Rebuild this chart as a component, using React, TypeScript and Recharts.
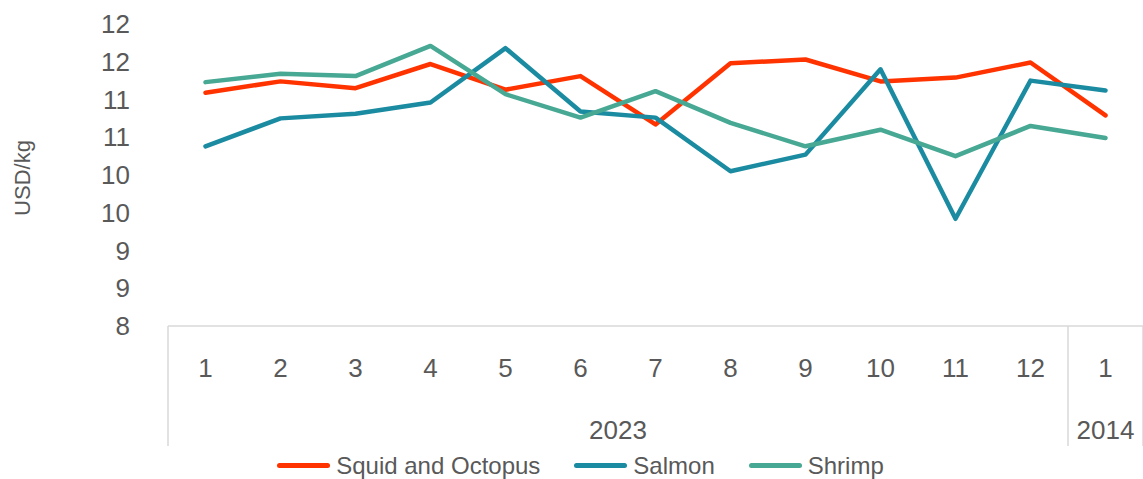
import React from 'react';
import { LineChart, Line, XAxis, YAxis, Legend, Label } from 'recharts';

const months = ['1', '2', '3', '4', '5', '6', '7', '8', '9', '10', '11', '12', '1'];
const years = ['2023', '2023', '2023', '2023', '2023', '2023', '2023', '2023', '2023', '2023', '2023', '2023', '2014'];

const squidOctopus = [11.09, 11.24, 11.15, 11.47, 11.13, 11.31, 10.67, 11.48, 11.53, 11.24, 11.29, 11.49, 10.79];
const salmon = [10.38, 10.75, 10.81, 10.96, 11.68, 10.84, 10.76, 10.05, 10.27, 11.4, 9.42, 11.25, 11.12];
const shrimp = [11.23, 11.34, 11.31, 11.71, 11.07, 10.76, 11.11, 10.69, 10.38, 10.6, 10.25, 10.65, 10.49];

const yTicks = [8, 8.5, 9, 9.5, 10, 10.5, 11, 11.5, 12];

const seriesKeys = ['squid', 'salmon', 'shrimp'];
const seriesNames = ['Squid and Octopus', 'Salmon', 'Shrimp'];
const seriesColors = ['#FF3300', '#1A8BA1', '#47A894'];

const data = months.map((m, i) => ({
  month: m,
  year: years[i],
  squid: squidOctopus[i],
  salmon: salmon[i],
  shrimp: shrimp[i],
}));

const TEXT = '#595959';
const FONT = '"Liberation Sans", Arial, sans-serif';
const GRID = '#D9D9D9';
// half of a category slot: points sit in the middle of their category
const HALF_SLOT = 37.5;

const MonthTick = (props: any) => {
  const { x, y, payload, index } = props;
  const half = HALF_SLOT;
  const step = half * 2;
  const yr = years[index];
  let start = index;
  while (start > 0 && years[start - 1] === yr) start--;
  let end = index;
  while (end < years.length - 1 && years[end + 1] === yr) end++;
  const isFirst = index === start;
  const isLastAll = index === years.length - 1;
  const groupCenter = x + ((start + end) / 2 - index) * step;
  return (
    <g>
      <text x={x} y={y + 51} textAnchor="middle" fill={TEXT} fontSize={26} fontFamily={FONT}>
        {payload.value}
      </text>
      {isFirst && (
        <line x1={x - half} x2={x - half} y1={y} y2={y + 120} stroke={GRID} strokeWidth={1.5} />
      )}
      {isLastAll && (
        <line x1={x + half} x2={x + half} y1={y} y2={y + 120} stroke={GRID} strokeWidth={1.5} />
      )}
      {isFirst && (
        <text x={groupCenter} y={y + 113} textAnchor="middle" fill={TEXT} fontSize={26} fontFamily={FONT}>
          {yr}
        </text>
      )}
    </g>
  );
};

const renderLegend = () => (
  <div
    style={{
      display: 'flex',
      justifyContent: 'center',
      alignItems: 'center',
      height: 33,
      paddingLeft: 18,
      fontFamily: FONT,
      fontSize: 24,
      color: TEXT,
      whiteSpace: 'nowrap',
    }}
  >
    {seriesNames.map((name, i) => (
      <span
        key={name}
        style={{ display: 'inline-flex', alignItems: 'center', marginRight: i < seriesNames.length - 1 ? 34 : 0 }}
      >
        <span style={{ display: 'inline-block', width: 53, height: 5, borderRadius: 3, background: seriesColors[i] }} />
        <span style={{ marginLeft: 6 }}>{name}</span>
      </span>
    ))}
  </div>
);

const YTitle = (props: any) => {
  const vb = props.viewBox || { x: 0, y: 0, width: 0, height: 0 };
  const cx = vb.x + 22;
  const cy = vb.y + vb.height / 2 + 3;
  return (
    <text
      x={cx}
      y={cy}
      transform={`rotate(-90, ${cx}, ${cy})`}
      textAnchor="middle"
      dominantBaseline="central"
      fill={TEXT}
      fontSize={22}
      fontFamily={FONT}
    >
      USD/kg
    </text>
  );
};

export default function App() {
  return (
    <div style={{ position: 'absolute', left: 0, top: 0, width: 1143, height: 479, background: '#fff' }}>
      <LineChart
        width={1143}
        height={479}
        data={data}
        margin={{ top: 24, right: 0, bottom: 0, left: 0 }}
        style={{ fontFamily: FONT }}
      >
        <XAxis
          dataKey="month"
          interval={0}
          height={120}
          padding={{ left: HALF_SLOT, right: HALF_SLOT }}
          tickLine={false}
          tickSize={0}
          tickMargin={0}
          axisLine={{ stroke: GRID, strokeWidth: 1.5 }}
          tick={<MonthTick />}
        />
        <YAxis
          width={168}
          domain={[8, 12]}
          ticks={yTicks}
          interval={0}
          axisLine={false}
          tickLine={false}
          tickSize={0}
          tickMargin={38}
          tickFormatter={(v: number) => String(Math.round(v))}
          tick={{ fill: TEXT, fontSize: 26, fontFamily: FONT }}
        >
          <Label content={<YTitle />} />
        </YAxis>
        <Legend
          verticalAlign="bottom"
          content={renderLegend}
          wrapperStyle={{ bottom: -3, left: 0, width: 1143 }}
        />
        {seriesKeys.map((k, i) => (
          <Line
            key={k}
            type="linear"
            dataKey={k}
            name={seriesNames[i]}
            stroke={seriesColors[i]}
            strokeWidth={4.5}
            strokeLinecap="round"
            strokeLinejoin="round"
            dot={false}
            activeDot={false}
            isAnimationActive={false}
          />
        ))}
      </LineChart>
    </div>
  );
}
